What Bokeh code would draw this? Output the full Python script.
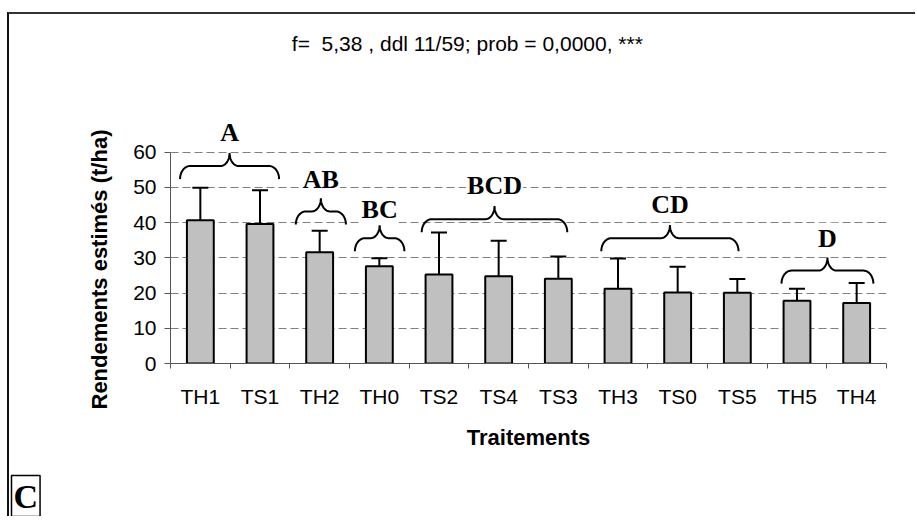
import math
import numpy as np
from bokeh.plotting import figure
from bokeh.models import (ColumnDataSource, FixedTicker, Whisker, TeeHead, Label,
                          Title, Range1d)
from bokeh.embed import file_html
from bokeh.resources import INLINE

# ---------------- data ----------------
categories = ["TH1", "TS1", "TH2", "TH0", "TS2", "TS4", "TS3", "TH3", "TS0", "TS5", "TH5", "TH4"]
means = [40.7, 39.6, 31.6, 27.6, 25.3, 24.8, 24.1, 21.2, 20.2, 20.1, 17.8, 17.2]
upper = [49.9, 49.2, 37.7, 29.9, 37.2, 34.9, 30.4, 29.8, 27.5, 24.0, 21.2, 22.9]
y_ticks = [0, 10, 20, 30, 40, 50, 60]

group_letters = ["A", "AB", "BC", "BCD", "CD", "D"]
brace_start = [0.16, 2.10, 3.09, 4.21, 7.22, 10.24]   # in category units
brace_end = [1.82, 2.94, 3.92, 6.65, 9.52, 11.78]
brace_level = [56.1, 43.2, 35.6, 41.0, 35.6, 26.4]
letter_level = [65.7, 52.3, 43.7, 50.6, 45.1, 35.6]

title_text = "f=\u00a0 5,38 , ddl 11/59; prob = 0,0000, ***"
y_label = "Rendements estimés (t/ha)"
x_label = "Traitements"
panel_letter = "C"

# ---------------- layout ----------------
OX, OY = 11, 16                     # canvas origin inside the page (after css border)
W, H = 917 - OX, 521 - OY - 3
FL, FR, FB = 172 - OX, 886 - OX, 363 - OY
SX = (FR - FL) / len(categories)
SY = 3.5
Y_END = FB / SY


def dx(px):   # page x -> data x
    return (px - OX - FL) / SX


def dy(py):   # page y -> data y
    return (FB - (py - OY)) / SY


centers = [i + 0.5 for i in range(len(categories))]
src = ColumnDataSource(dict(x=centers, top=means, hi=upper, name=categories))

p = figure(width=W, height=H, output_backend="svg", toolbar_location=None,
           x_range=Range1d(0, len(categories)), y_range=Range1d(0, Y_END),
           min_border_left=FL, min_border_right=W - FR,
           min_border_top=0, min_border_bottom=H - FB)
p.styles = {"margin-left": "7px", "margin-top": "12px", "vertical-align": "top",
            "box-sizing": "content-box", "overflow": "visible",
            "border-top": "2px solid #333333", "border-left": "2px solid #111111"}
p.outline_line_color = None
p.background_fill_color = "white"
p.border_fill_color = "white"
p.xgrid.visible = False

SANS = "Liberation Sans"
SERIF = "Liberation Serif"

# grid
p.ygrid.ticker = FixedTicker(ticks=y_ticks[1:])
p.ygrid.grid_line_color = "#7f7f7f"
p.ygrid.grid_line_dash = "8 4"
p.ygrid.grid_line_width = 1

# y axis
p.yaxis.ticker = FixedTicker(ticks=y_ticks)
p.yaxis.bounds = (0, 60)
p.yaxis.axis_line_color = "#555555"
p.yaxis.major_tick_line_color = "#555555"
p.yaxis.major_tick_out = 6
p.yaxis.major_tick_in = 0
p.yaxis.minor_tick_line_color = None
p.yaxis.major_label_standoff = 8
p.yaxis.major_label_text_font = SANS
p.yaxis.major_label_text_font_size = "21px"
p.yaxis.major_label_text_color = "black"

# x axis
p.xaxis.ticker = FixedTicker(ticks=centers, minor_ticks=list(range(len(categories) + 1)))
p.xaxis.major_label_overrides = {c: n for c, n in zip(centers, categories)}
p.xaxis.axis_line_color = "#555555"
p.xaxis.major_tick_out = 0
p.xaxis.major_tick_in = 0
p.xaxis.minor_tick_out = 5
p.xaxis.minor_tick_in = 0
p.xaxis.minor_tick_line_color = "#555555"
p.xaxis.major_label_standoff = 16
p.xaxis.major_label_text_font = SANS
p.xaxis.major_label_text_font_size = "21px"
p.xaxis.major_label_text_color = "black"
p.xaxis.axis_label = x_label
p.xaxis.axis_label_text_font = SANS
p.xaxis.axis_label_text_font_style = "bold"
p.xaxis.axis_label_text_font_size = "22px"
p.xaxis.axis_label_text_color = "black"
p.xaxis.axis_label_standoff = 14

# bars
p.vbar(x="x", top="top", width=0.45, bottom=0, source=src,
       fill_color="#c0c0c0", line_color="black", line_width=2)

# error bars (upper only)
p.add_layout(Whisker(source=src, base="x", lower="top", upper="hi", dimension="height",
                     line_color="black", line_width=2,
                     upper_head=TeeHead(size=16, line_color="black", line_width=2),
                     lower_head=None, level="glyph"))


# braces
def brace(x0, x1, h, hook=13.0, tip=13.0, rx=10.0, tx=9.0, n=14):
    X0, X1 = x0 * SX, x1 * SX
    M = (X0 + X1) / 2
    t = np.linspace(0, np.pi / 2, n)
    tr = t[::-1]
    xs = list(X0 + rx - rx * np.cos(t)) + list(M - tx + tx * np.sin(t)) + \
        list(M + tx - tx * np.sin(tr)) + list(X1 - rx + rx * np.cos(tr))
    ys = list(-hook + hook * np.sin(t)) + list(tip - tip * np.cos(t)) + \
        list(tip - tip * np.cos(tr)) + list(-hook + hook * np.sin(tr))
    return [x / SX for x in xs], [h + y / SY for y in ys]


bx, by = [], []
for s, e, lv in zip(brace_start, brace_end, brace_level):
    a, b = brace(s, e, lv)
    bx.append(a)
    by.append(b)
p.multi_line(xs=bx, ys=by, line_color="black", line_width=2)

for s, e, L, lv in zip(brace_start, brace_end, group_letters, letter_level):
    p.add_layout(Label(x=(s + e) / 2, y=lv, text=L, text_align="center",
                       text_baseline="middle", text_font=SERIF, text_font_style="bold",
                       text_font_size="26px", text_color="black",
                       background_fill_color="white", padding=1))

# title (inside the frame, which reaches the top of the canvas)
p.add_layout(Label(x=dx(468), y=dy(45), text=title_text, text_align="center",
                   text_baseline="middle", text_font=SANS, text_font_size="21px",
                   text_color="black"))

# y axis label as a side title
p.add_layout(Title(text=y_label, align="left", offset=-46, vertical_align="middle",
                   standoff=35, text_font=SANS, text_font_style="bold",
                   text_font_size="22px", text_color="black"), "left")

# spacer + panel letter below
p.add_layout(Title(text=" ", text_font_size="10px", standoff=14), "below")
p.add_layout(Title(text=panel_letter, align="left", offset=-159, vertical_align="bottom",
                   standoff=-12, text_font=SERIF, text_font_style="bold",
                   text_font_size="34px", text_color="black",
                   border_line_color="black", border_line_width=1.5,
                   background_fill_color="white", padding=2), "below")

open("out.html", "w").write(file_html(p, INLINE))
